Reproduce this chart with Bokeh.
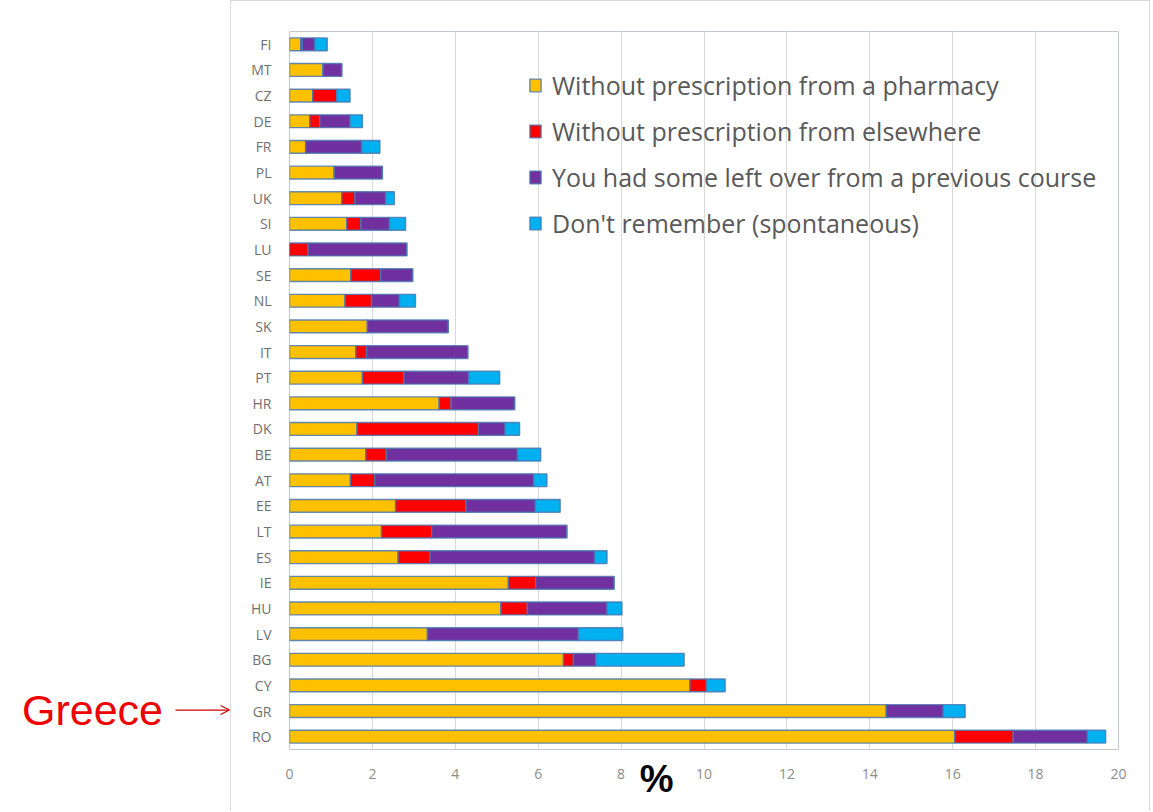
from bokeh.plotting import figure
from bokeh.layouts import row
from bokeh.models import (FactorRange, Legend, LegendItem, Arrow, OpenHead,
                          ColumnDataSource, FixedTicker, LinearAxis)
from bokeh.embed import file_html
from bokeh.resources import INLINE

# ---------------- data (top to bottom) ----------------
countries = ["FI", "MT", "CZ", "DE", "FR", "PL", "UK", "SI", "LU", "SE", "NL", "SK", "IT", "PT",
             "HR", "DK", "BE", "AT", "EE", "LT", "ES", "IE", "HU", "LV", "BG", "CY", "GR", "RO"]
pharmacy  = [0.27, 0.81, 0.56, 0.49, 0.39, 1.08, 1.26, 1.38, 0.00, 1.48, 1.34, 1.88, 1.60, 1.76,
             3.61, 1.63, 1.84, 1.47, 2.56, 2.22, 2.62, 5.28, 5.10, 3.33, 6.61, 9.66, 14.40, 16.05]
elsewhere = [0.04, 0.00, 0.58, 0.24, 0.00, 0.00, 0.32, 0.34, 0.45, 0.72, 0.64, 0.00, 0.26, 1.00,
             0.29, 2.93, 0.50, 0.59, 1.70, 1.21, 0.77, 0.66, 0.64, 0.00, 0.24, 0.40, 0.00, 1.41]
leftover  = [0.30, 0.45, 0.00, 0.73, 1.35, 1.16, 0.74, 0.69, 2.38, 0.77, 0.67, 1.95, 2.44, 1.56,
             1.53, 0.64, 3.16, 3.83, 1.67, 3.26, 3.97, 1.89, 1.92, 3.64, 0.54, 0.00, 1.37, 1.79]
dont_rem  = [0.30, 0.00, 0.32, 0.30, 0.44, 0.00, 0.21, 0.39, 0.00, 0.00, 0.39, 0.00, 0.00, 0.75,
             0.00, 0.35, 0.56, 0.32, 0.60, 0.00, 0.30, 0.00, 0.36, 1.07, 2.13, 0.45, 0.53, 0.44]
series_keys = ["pharmacy", "elsewhere", "leftover", "dont_rem"]
series_labels = ["Without prescription from a pharmacy",
                 "Without prescription from elsewhere",
                 "You had some left over from a previous course",
                 "Don't remember (spontaneous)"]
series_colors = ["#FFC000", "#FF0000", "#7030A0", "#00B0F0"]
x_ticks = [0, 2, 4, 6, 8, 10, 12, 14, 16, 18, 20]
highlight = "GR"
highlight_name = "Greece"
axis_title = "%"
axis_title_pos = 8.86   # where the "%" sits along the x axis

FONT = "Open Sans"
H = 810
TOP, BOTTOM = 30, 62

source = ColumnDataSource(dict(country=countries, pharmacy=pharmacy, elsewhere=elsewhere,
                               leftover=leftover, dont_rem=dont_rem))
y_range = FactorRange(factors=list(reversed(countries)))

# ---------------- main chart ----------------
p = figure(width=920, height=H, y_range=y_range, x_range=(0, 20),
           output_backend="svg", toolbar_location=None,
           min_border_left=58, min_border_right=33,
           min_border_top=TOP, min_border_bottom=BOTTOM)
p.styles = {"border-left": "1px solid #d9d9d9", "border-top": "1px solid #d9d9d9",
            "border-right": "1px solid #d9d9d9"}

renderers = p.hbar_stack(series_keys, y="country", height=0.5, source=source,
                         color=series_colors,
                         line_color="#4a78b0", line_alpha=0.85, line_width=1.4)

p.xaxis.ticker = FixedTicker(ticks=x_ticks)
for ax in (p.xaxis, p.yaxis):
    ax.axis_line_color = None
    ax.major_tick_line_color = None
    ax.minor_tick_line_color = None
    ax.major_tick_out = 0
    ax.major_tick_in = 0
    ax.minor_tick_out = 0
    ax.major_label_text_font = FONT
p.xaxis.major_label_text_font_size = "14px"
p.xaxis.major_label_text_color = "#8c8c8c"
p.xaxis.major_label_standoff = 19
p.yaxis.major_label_text_font_size = "14px"
p.yaxis.major_label_text_color = "#707070"
p.yaxis.major_label_standoff = 18
p.ygrid.grid_line_color = None
p.xgrid.grid_line_color = "#d9d9d9"
p.outline_line_color = "#c0c8d4"
p.background_fill_color = "white"
p.border_fill_color = "white"

# "%" placed as a tick label on a second bottom axis
pct_axis = LinearAxis(ticker=FixedTicker(ticks=[axis_title_pos]),
                      major_label_overrides={axis_title_pos: axis_title},
                      axis_line_color=None, major_tick_line_color=None,
                      minor_tick_line_color=None, major_tick_out=0, major_tick_in=0,
                      minor_tick_out=0, major_label_standoff=-24,
                      major_label_text_font="Liberation Sans",
                      major_label_text_font_style="bold",
                      major_label_text_font_size="38px",
                      major_label_text_color="black")
p.add_layout(pct_axis, "below")

# legend
items = [LegendItem(label=lab, renderers=[r]) for lab, r in zip(series_labels, renderers)]
legend = Legend(items=items, location=(239, 509), orientation="vertical",
                label_text_font=FONT, label_text_font_size="25px",
                label_text_color="#595959", glyph_width=14, glyph_height=16,
                spacing=12, padding=0, margin=0, label_standoff=10,
                border_line_alpha=0, background_fill_alpha=0)
p.add_layout(legend)

# ---------------- left annotation panel ----------------
pl = figure(width=230, height=H, y_range=y_range, x_range=(0, 230),
            output_backend="svg", toolbar_location=None,
            min_border_left=0, min_border_right=0,
            min_border_top=TOP, min_border_bottom=BOTTOM)
pl.axis.visible = False
pl.grid.grid_line_color = None
pl.outline_line_color = None
pl.background_fill_color = "white"
pl.border_fill_color = "white"
pl.text(x=[92], y=[highlight], text=[highlight_name], text_align="center",
        text_baseline="middle", text_color="#ee0000",
        text_font={"value": "Liberation Sans"}, text_font_size="43px")
arrow_src = ColumnDataSource(dict(x0=[175], x1=[229], y=[highlight]))
pl.add_layout(Arrow(source=arrow_src, x_start="x0", y_start="y", x_end="x1", y_end="y",
                    line_color="#cc0000", line_width=1.2,
                    end=OpenHead(size=9, line_color="#cc0000", line_width=1.2)))

layout = row(pl, p, spacing=0)
open("out.html", "w").write(file_html(layout, INLINE))
